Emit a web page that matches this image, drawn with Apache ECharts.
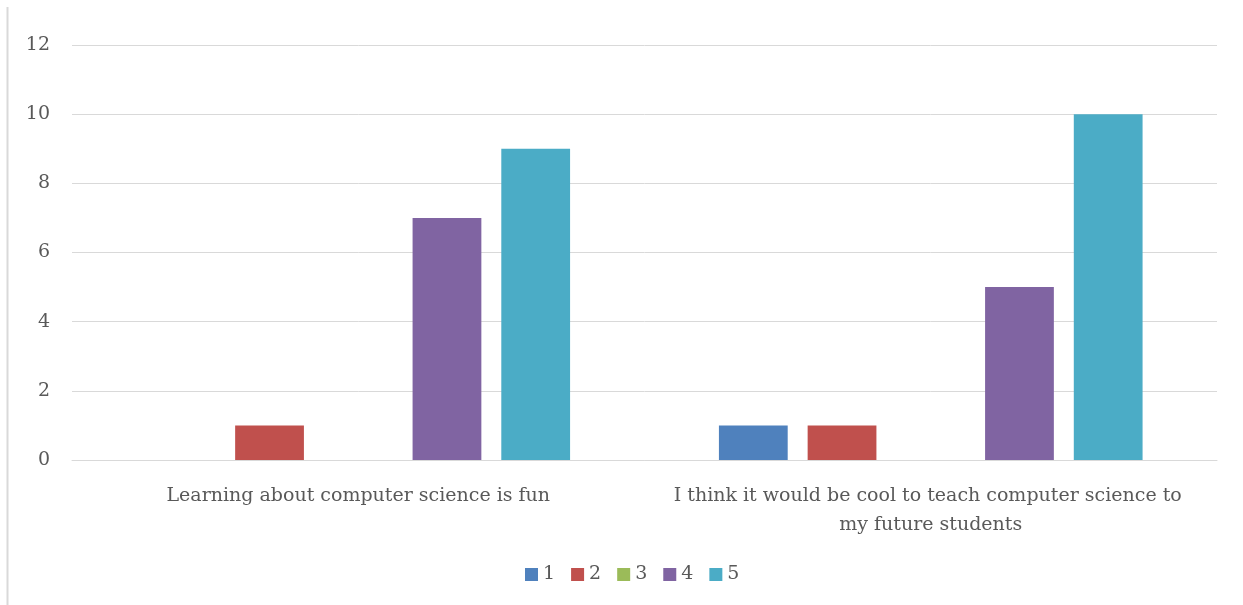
<!DOCTYPE html>
<html lang="en">
<head>
    <meta charset="UTF-8">
    <title>Computer science survey</title>
    <script src="https://cdn.jsdelivr.net/npm/echarts@6/dist/echarts.min.js"></script>
    <style>
        html, body, #chart {
            width: 1243px;
            height: 605px;
            padding: 0;
            margin: 0;
            background: #fff;
        }
    </style>
</head>
<body>
<div id="chart"></div>
<script>
    var categories = [
        "Learning about computer science is fun",
        "I think it would be cool to teach computer science to my future students"
    ];
    var seriesNames = ["1", "2", "3", "4", "5"];
    var values1 = [0, 1];
    var values2 = [1, 1];
    var values3 = [0, 0];
    var values4 = [7, 5];
    var values5 = [9, 10];
    var colors = ["#4f81bd", "#c0504d", "#9bbb59", "#8064a2", "#4bacc6"];

    var allValues = [values1, values2, values3, values4, values5];
    var labelFont = "DejaVu Serif";
    var textColor = "#595959";

    var myChart = echarts.init(document.getElementById("chart"));

    var series = [];
    for (var i = 0; i < seriesNames.length; i++) {
        series.push({
            name: seriesNames[i],
            type: "bar",
            data: allValues[i],
            barGap: "29%",
            barCategoryGap: "26%",
            itemStyle: {color: colors[i]}
        });
    }

    myChart.setOption({
        animation: false,
        color: colors,
        grid: {left: 72, right: 26, top: 45, bottom: 145},
        legend: {
            bottom: 16,
            left: 520,
            icon: "rect",
            itemWidth: 13,
            itemHeight: 13,
            itemGap: 16,
            itemStyle: {borderWidth: 0},
            textStyle: {fontFamily: labelFont, fontSize: 19, color: textColor},
            data: seriesNames
        },
        graphic: [{
            type: "line",
            shape: {x1: 7.5, y1: 7, x2: 7.5, y2: 605},
            style: {stroke: "#d9d9d9", lineWidth: 2}
        }],
        xAxis: {
            type: "category",
            data: categories,
            axisTick: {show: false},
            axisLine: {lineStyle: {color: "#d9d9d9"}},
            axisLabel: {
                interval: 0,
                margin: 22,
                width: 535,
                overflow: "break",
                lineHeight: 29,
                fontFamily: labelFont,
                fontSize: 19,
                color: textColor
            }
        },
        yAxis: {
            type: "value",
            min: 0,
            max: 12,
            interval: 2,
            axisLine: {show: false},
            axisTick: {show: false},
            splitLine: {lineStyle: {color: "#d9d9d9"}},
            axisLabel: {
                margin: 22,
                fontFamily: labelFont,
                fontSize: 19,
                color: textColor
            }
        },
        series: series
    });
</script>
</body>
</html>
